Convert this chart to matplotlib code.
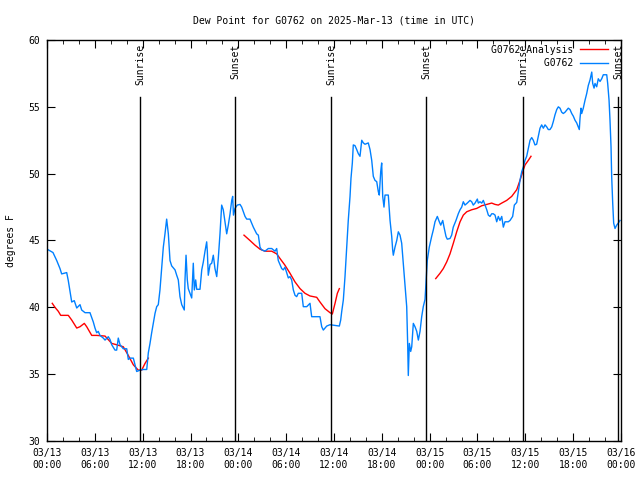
import numpy as np
import matplotlib
matplotlib.use("Agg")
import matplotlib.pyplot as plt
from matplotlib.ticker import MultipleLocator
import matplotlib.transforms as mtransforms

plt.rcParams['font.family'] = ['DejaVu Sans Mono']

# hours since 2025-03-13 00:00 UTC
obs_hours = [0.16, 0.75, 1.22, 1.63, 1.84, 2.47, 2.67, 2.89, 3.10, 3.42, 3.73, 4.14, 4.35, 4.77,
             5.39, 5.81, 6.02, 6.23, 6.43, 6.65, 7.06, 7.28, 7.69, 7.90, 8.12, 8.53, 8.74, 8.94,
             9.16, 9.57, 10.00, 10.20, 10.41, 10.83, 11.04, 11.25, 11.67, 12.08, 12.51, 12.71,
             12.92, 13.13, 13.33, 13.55, 13.76, 13.96, 14.17, 14.39, 14.59, 14.80, 15.01, 15.22,
             15.43, 15.64, 16.06, 16.27, 16.47, 16.68, 16.90, 17.22, 17.31, 17.44, 17.60, 17.72,
             17.94, 18.15, 18.35, 18.48, 18.65, 18.78, 19.19, 19.41, 19.61, 19.82, 20.03, 20.11,
             20.23, 20.45, 20.66, 20.86, 21.07, 21.29, 21.49, 21.70, 21.91, 22.11, 22.33, 22.54,
             22.74, 22.96, 23.17, 23.29, 23.39, 23.58, 23.87, 24.21, 24.42, 24.84, 25.05, 25.46,
             25.88, 26.30, 26.51, 26.72, 26.93, 27.34, 27.76, 28.19, 28.60, 28.81, 29.01, 29.44,
             29.64, 29.85, 30.27, 30.48, 30.69, 30.90, 31.11, 31.32, 31.52, 31.95, 32.15, 32.58,
             32.99, 33.20, 33.83, 34.24, 34.46, 34.66, 35.09, 35.50, 36.67, 36.84, 36.97, 37.17,
             37.38, 37.59, 37.79, 38.01, 38.13, 38.30, 38.42, 38.63, 38.85, 39.05, 39.26, 39.48,
             39.68, 39.89, 40.30, 40.52, 40.73, 40.93, 41.14, 41.36, 41.56, 41.68, 41.86, 41.98,
             42.11, 42.27, 42.40, 42.81, 43.03, 43.24, 43.36, 43.44, 43.65, 43.87, 44.07, 44.28,
             44.49, 44.69, 44.91, 45.12, 45.25, 45.32, 45.45, 45.62, 45.75, 45.95, 46.16, 46.38,
             46.58, 46.79, 47.00, 47.20, 47.42, 47.54, 47.70, 47.95, 48.25, 48.46, 48.67, 48.96,
             49.21, 49.39, 49.64, 49.80, 50.05, 50.21, 50.55, 50.76, 50.96, 51.30, 51.59, 51.81,
             52.02, 52.22, 52.43, 52.72, 53.06, 53.27, 53.47, 53.69, 53.98, 54.10, 54.31, 54.53,
             54.73, 54.94, 55.16, 55.36, 55.57, 55.78, 55.98, 56.20, 56.41, 56.61, 56.82, 57.04,
             57.24, 57.45, 57.86, 58.08, 58.41, 58.62, 58.92, 59.12, 59.33, 59.55, 59.75, 59.96,
             60.17, 60.38, 60.59, 60.80, 61.00, 61.21, 61.42, 61.63, 61.84, 62.05, 62.26, 62.47,
             62.68, 62.88, 63.09, 63.31, 63.51, 63.72, 63.94, 64.14, 64.35, 64.56, 64.76, 64.98,
             65.39, 65.60, 65.82, 66.02, 66.23, 66.44, 66.64, 66.77, 66.86, 66.98, 67.07, 67.27,
             67.49, 67.70, 67.90, 68.11, 68.33, 68.45, 68.62, 68.74, 68.95, 69.15, 69.37, 69.58,
             69.78, 70.21, 70.33, 70.50, 70.62, 70.75, 70.83, 70.96, 71.08, 71.25, 71.46, 71.66,
             71.87]
obs_dewpt = [44.3, 44.1, 43.5, 42.9, 42.5, 42.6, 42.0, 41.2, 40.4, 40.5, 39.95, 40.2, 39.8, 39.6,
             39.6, 38.9, 38.45, 38.1, 38.2, 37.9, 37.7, 37.55, 37.8, 37.6, 37.2, 36.8, 36.8, 37.7,
             37.2, 36.9, 36.9, 36.1, 36.2, 36.2, 35.7, 35.2, 35.3, 35.35, 35.35, 36.6,
             37.3, 38.1, 38.8, 39.55, 40.05, 40.2, 41.3, 43.0, 44.5, 45.5, 46.6, 45.5,
             43.5, 43.1, 42.8, 42.4, 42.05, 40.8, 40.2, 39.8, 42.05, 43.9, 42.05, 41.4,
             41.05, 40.7, 43.3, 41.3, 42.05, 41.35, 41.35, 42.8, 43.4, 44.2, 44.9, 44.2,
             42.4, 43.2, 43.3, 43.9, 42.9, 42.3, 43.7, 45.5, 47.65, 47.3, 46.4, 45.5,
             46.15, 47.0, 48.0, 48.3, 46.9, 47.4, 47.65, 47.7, 47.5, 46.8, 46.6, 46.6,
             46.0, 45.5, 45.4, 44.5, 44.3, 44.2, 44.4, 44.4, 44.2, 44.4, 43.5, 42.9,
             42.8, 43.0, 42.2, 42.3, 42.05, 41.3, 40.9, 40.8, 41.05, 41.05, 40.05, 40.05,
             40.3, 39.3, 39.3, 39.3, 38.55, 38.3, 38.6, 38.7, 38.6, 39.05, 39.7, 40.55,
             42.3, 44.5, 46.5, 48.3, 49.65, 50.8, 52.15, 52.1, 51.8, 51.5, 51.3, 52.5,
             52.3, 52.2, 52.3, 51.8, 51.0, 49.8, 49.5, 49.4, 48.65, 48.4, 50.15, 50.8,
             48.3, 47.5, 48.4, 48.4, 46.5, 45.3, 44.3, 43.9, 44.5, 45.0, 45.65, 45.4,
             44.8, 43.3, 41.55, 40.05, 37.05, 34.9, 37.3, 36.7, 37.05, 38.8, 38.55, 38.2,
             37.55, 38.2, 39.3, 40.05, 40.6, 41.8, 43.5, 44.5, 45.3, 45.8, 46.4, 46.8,
             46.4, 46.15, 46.5, 46.0, 45.3, 45.1, 45.15, 45.4, 46.0, 46.5, 47.0, 47.3,
             47.5, 47.9, 47.65, 47.8, 48.0, 47.9, 47.65, 47.8, 48.1, 47.8, 47.9, 47.8,
             48.0, 47.65, 47.3, 46.9, 46.8, 47.0, 47.0, 46.9, 46.4, 46.8, 46.5, 46.8,
             46.0, 46.4, 46.4, 46.5, 46.8, 47.65, 47.85, 48.65, 49.5, 50.15, 50.5, 51.0,
             51.3, 51.9, 52.5, 52.7, 52.5, 52.15, 52.2, 52.8, 53.4, 53.65, 53.4, 53.65,
             53.5, 53.3, 53.3, 53.5, 53.9, 54.4, 54.8, 55.0, 54.9, 54.6, 54.5, 54.6,
             54.9, 54.8, 54.5, 54.3, 54.0, 53.8, 53.5, 53.3, 54.15, 54.9, 54.5, 54.9,
             55.5, 56.0, 56.6, 57.0, 57.6, 56.75, 56.4, 56.75, 56.5, 57.1, 56.9, 57.1,
             57.4, 57.4, 56.75, 55.5, 54.0, 52.0, 49.8, 47.8, 46.3, 45.9, 46.15, 46.3,
             46.5]

# analysis runs (gaps between runs)
ana_hours = [0.66, 1.00, 1.42, 1.72, 2.67, 3.10, 3.73, 4.14, 4.68, 4.98, 5.61, 6.23, 7.28, 8.12,
             8.74, 9.57, 10.20, 10.83, 11.45, 11.88, 12.29, 12.71, np.nan,
             24.71, 25.46, 26.09, 26.72, 27.34, 28.19, 28.81, 29.23, 29.85, 30.48, 31.11, 31.74,
             32.36, 32.99, 33.83, 34.24, 34.87, 35.50, 35.79, 36.13, 36.42, 36.67, np.nan,
             48.76, 49.30, 49.71, 50.14, 50.55, 50.97, 51.39, 51.81, 52.22, 52.65, 53.27, 53.90,
             54.53, 55.16, 55.78, 56.20, 56.61, 57.04, 57.66, 58.29, 58.92, 59.33, 59.75, 59.96,
             60.38, 60.71]
ana_dewpt = [40.3, 40.0, 39.7, 39.4, 39.4, 39.05, 38.45, 38.55, 38.8, 38.55, 37.9, 37.9, 37.85, 37.3,
             37.2, 37.05, 36.4, 35.7, 35.3, 35.3, 35.8, 36.2, np.nan,
             45.4, 45.0, 44.65, 44.35, 44.2, 44.2, 44.0, 43.65, 43.15, 42.55, 41.9, 41.4,
             41.05, 40.85, 40.75, 40.4, 39.9, 39.6, 39.5, 40.3, 41.05, 41.4, np.nan,
             42.15, 42.55, 42.9, 43.4, 44.0, 44.8, 45.65, 46.4, 46.9, 47.15, 47.3, 47.4,
             47.6, 47.7, 47.8, 47.7, 47.65, 47.8, 48.0, 48.3, 48.8, 49.5, 50.3, 50.65,
             51.0, 51.3]

sun_hours = [11.67, 23.58, 35.62, 47.54, 59.71, 71.62]
sun_labels = ['Sunrise', 'Sunset', 'Sunrise', 'Sunset', 'Sunrise', 'Sunset']

tick_hours = [0, 6, 12, 18, 24, 30, 36, 42, 48, 54, 60, 66, 72]
tick_labels = ['03/13\n00:00', '03/13\n06:00', '03/13\n12:00', '03/13\n18:00',
               '03/14\n00:00', '03/14\n06:00', '03/14\n12:00', '03/14\n18:00',
               '03/15\n00:00', '03/15\n06:00', '03/15\n12:00', '03/15\n18:00',
               '03/16\n00:00']

fig = plt.figure(figsize=(6.4, 4.8), dpi=100)
ax = fig.add_axes([47 / 640, 1 - 441 / 480, 574 / 640, 401 / 480])

ax.plot(ana_hours, ana_dewpt, color='#ff0000', lw=1, label='G0762 Analysis')
ax.plot(obs_hours, obs_dewpt, color='#0080ff', lw=1, label='         G0762')

trans = mtransforms.blended_transform_factory(ax.transData, ax.transAxes)
for h, lab in zip(sun_hours, sun_labels):
    ax.plot([h, h], [0, 0.858], color='black', lw=1, transform=trans)
    ax.text(h, 0.99, lab, rotation=90, ha='center', va='top', fontsize=7, transform=trans)

ax.set_xlim(0, 72)
ax.set_ylim(30, 60)
ax.set_xticks(tick_hours)
ax.set_xticklabels(tick_labels)
ax.xaxis.set_minor_locator(MultipleLocator(2))
ax.yaxis.set_major_locator(MultipleLocator(5))
ax.tick_params(which='major', direction='in', length=6, top=True, right=True, labelsize=7, pad=5)
ax.tick_params(which='minor', direction='in', length=3, top=True, right=False)
ax.tick_params(axis='y', which='minor', left=False, right=False)
for s in ax.spines.values():
    s.set_linewidth(1)

ax.set_ylabel('degrees F', fontsize=7, labelpad=9)
ax.set_title('Dew Point for G0762 on 2025-Mar-13 (time in UTC)', fontsize=7, pad=12)

ax.legend(loc='upper right', frameon=False, markerfirst=False, fontsize=7,
          handlelength=2.8, handletextpad=0.7, labelspacing=0.35,
          borderaxespad=0.1, bbox_to_anchor=(0.985, 1.0))

fig.savefig('out.png', dpi=100)
